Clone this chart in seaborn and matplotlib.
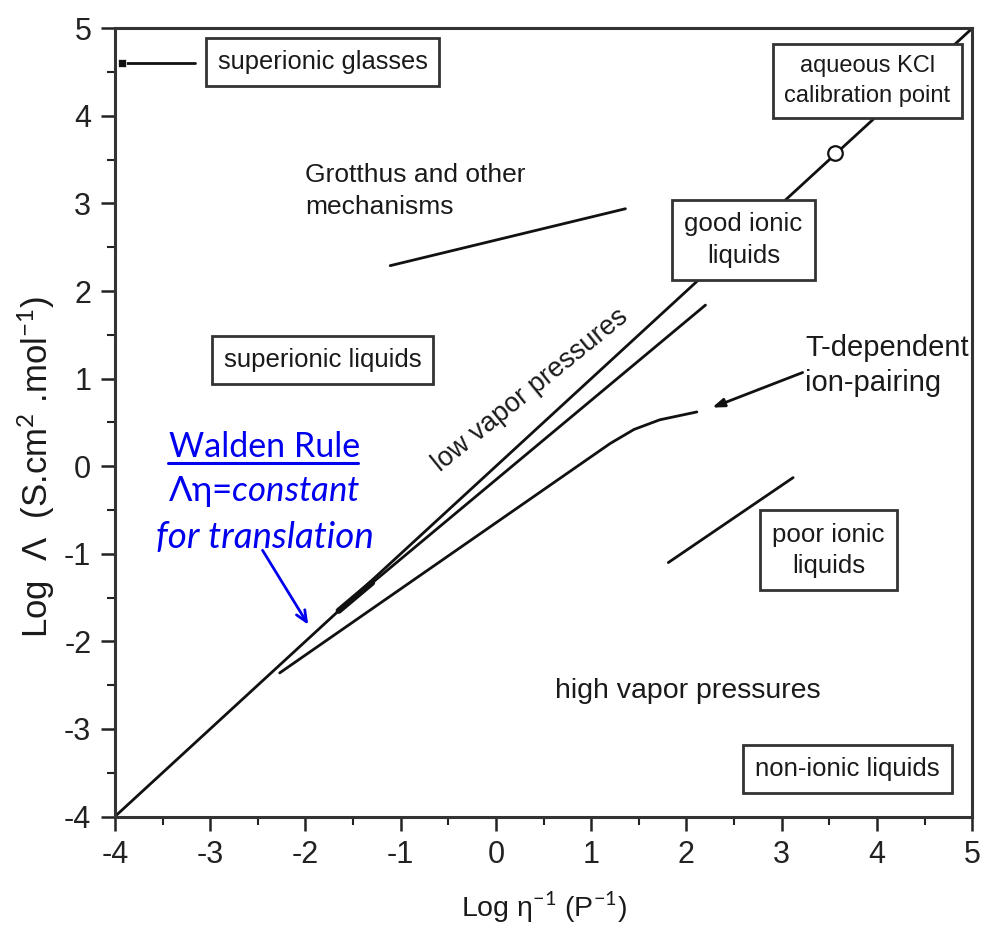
import matplotlib
matplotlib.use("Agg")
import matplotlib.pyplot as plt
import seaborn as sns
import numpy as np
import pandas as pd
from matplotlib.ticker import MultipleLocator

# ---- data (log eta^-1, log Lambda) ----
walden_x = [-4.0, 5.0]
walden_y = [-4.0, 5.0]

lowvap_x = [-1.65, 2.2]
lowvap_y = [-1.65, 1.84]

ionpair_x = [-2.27, 1.2, 1.45, 1.72, 2.11]
ionpair_y = [-2.36, 0.26, 0.42, 0.53, 0.62]

grotthus_x = [-1.11, 1.36]
grotthus_y = [2.29, 2.94]

poor_x = [1.81, 3.12]
poor_y = [-1.10, -0.13]

glass_x = [-3.93, -3.16]
glass_y = [4.6, 4.6]

kcl_x = [3.56]
kcl_y = [3.58]

x_ticks = [-4, -3, -2, -1, 0, 1, 2, 3, 4, 5]
y_ticks = [-4, -3, -2, -1, 0, 1, 2, 3, 4, 5]

sns.set_style("white")
FONT = ["Liberation Sans", "DejaVu Sans"]
plt.rcParams["font.family"] = FONT
plt.rcParams["axes.unicode_minus"] = False
plt.rcParams["mathtext.fontset"] = "custom"
plt.rcParams["mathtext.it"] = "Lato:italic"
plt.rcParams["mathtext.rm"] = "Lato"

fig = plt.figure(figsize=(9.82, 9.44), dpi=100)
ax = fig.add_axes([0.117, 0.135, 0.873, 0.835])

ink = "#111111"
txt = "#1a1a1a"

def seg(xs, ys, lw=2.0, z=2):
    df = pd.DataFrame({"x": xs, "y": ys})
    sns.lineplot(data=df, x="x", y="y", sort=False, color=ink, lw=lw, ax=ax, zorder=z)

seg(walden_x, walden_y, lw=2.0)
seg(lowvap_x, lowvap_y, lw=2.0)
seg(lowvap_x[:1] + [lowvap_x[0] + 0.35], lowvap_y[:1] + [lowvap_y[0] + 0.32], lw=4.5)
seg(ionpair_x, ionpair_y, lw=2.0)
seg(grotthus_x, grotthus_y, lw=2.0)
seg(poor_x, poor_y, lw=2.0)
seg(glass_x, glass_y, lw=2.0)
sns.scatterplot(x=glass_x[:1], y=glass_y[:1], marker="s", s=40, color=ink, ax=ax, zorder=3)
sns.scatterplot(x=kcl_x, y=kcl_y, marker="o", s=110, facecolor="white",
                edgecolor=ink, linewidth=1.6, ax=ax, zorder=3)

# ion-pairing pointer
ax.annotate("", xy=(2.27, 0.67), xytext=(3.22, 1.07),
            arrowprops=dict(arrowstyle="-|>,head_length=0.7,head_width=0.25",
                            color=ink, lw=2.0, shrinkA=0, shrinkB=0))

box = dict(boxstyle="square,pad=0.47", fc="white", ec="#333333", lw=2.0)

def boxed(x, y, s, fs, ls=1.4):
    ax.text(x, y, s, ha="center", va="center", fontsize=fs, bbox=box, zorder=5,
            linespacing=ls, color=txt)

boxed(-1.82, 4.62, "superionic glasses", 18.4)
boxed(3.9, 4.4, "aqueous KCl\ncalibration point", 17, 1.5)
boxed(2.6, 2.58, "good ionic\nliquids", 18.6)
boxed(-1.82, 1.21, "superionic liquids", 18.5)
boxed(3.49, -0.96, "poor ionic\nliquids", 18.6)
boxed(3.69, -3.46, "non-ionic liquids", 18.5)

ax.text(-2.0, 3.14, "Grotthus and other\nmechanisms", ha="left", va="center",
        fontsize=19, linespacing=1.42, color=txt)
ax.text(3.25, 1.15, "T-dependent\nion-pairing", ha="left", va="center",
        fontsize=21, linespacing=1.35, color=txt)
ax.text(0.62, -2.57, "high vapor pressures", ha="left", va="center",
        fontsize=20.5, color=txt)
ax.text(0.36, 0.87, "low vapor pressures", ha="center", va="center",
        fontsize=19.5, rotation=39, rotation_mode="anchor", color=txt)

# Walden rule note
blue = "#0000ee"
bfont = ["Lato", "DejaVu Sans"]
ax.text(-2.43, 0.22, "Walden Rule", ha="center", va="center", fontsize=24.5,
        color=blue, family=bfont)
ax.plot([-3.44, -1.45], [0.04, 0.04], color=blue, lw=2.2, zorder=4)
ax.text(-2.43, -0.29, "Λη=$\\it{constant}$", ha="center", va="center",
        fontsize=25, color=blue, family=bfont)
ax.text(-2.43, -0.81, "for translation", ha="center", va="center", fontsize=26.5,
        color=blue, family=bfont, style="italic")
ax.annotate("", xy=(-1.97, -1.81), xytext=(-2.45, -0.96),
            arrowprops=dict(arrowstyle="->,head_length=0.8,head_width=0.35",
                            color=blue, lw=2.0, shrinkA=0, shrinkB=0))

ax.set_xlim(-4, 5)
ax.set_ylim(-4, 5)
ax.set_xticks(x_ticks)
ax.set_yticks(y_ticks)
ax.xaxis.set_minor_locator(MultipleLocator(0.5))
ax.yaxis.set_minor_locator(MultipleLocator(0.5))
ax.tick_params(which="major", direction="out", length=10, width=1.8, labelsize=22,
               colors="#222222", pad=7)
ax.tick_params(which="minor", direction="out", length=6, width=1.5, colors="#222222")
ax.tick_params(axis="x", which="both", bottom=True)
ax.tick_params(axis="y", which="both", left=True)
for s in ax.spines.values():
    s.set_visible(True)
    s.set_color("#333333")
    s.set_linewidth(2.2)

ax.set_xlabel("Log η$^{-1}$ (P$^{-1}$)", fontsize=20.5, labelpad=14, color=txt)
ax.set_ylabel("Log  Λ  (S.cm$^{2}$ .mol$^{-1}$)", fontsize=25, color=txt)
ax.yaxis.set_label_coords(-0.068, 0.444)

fig.savefig("out.png", dpi=100)
